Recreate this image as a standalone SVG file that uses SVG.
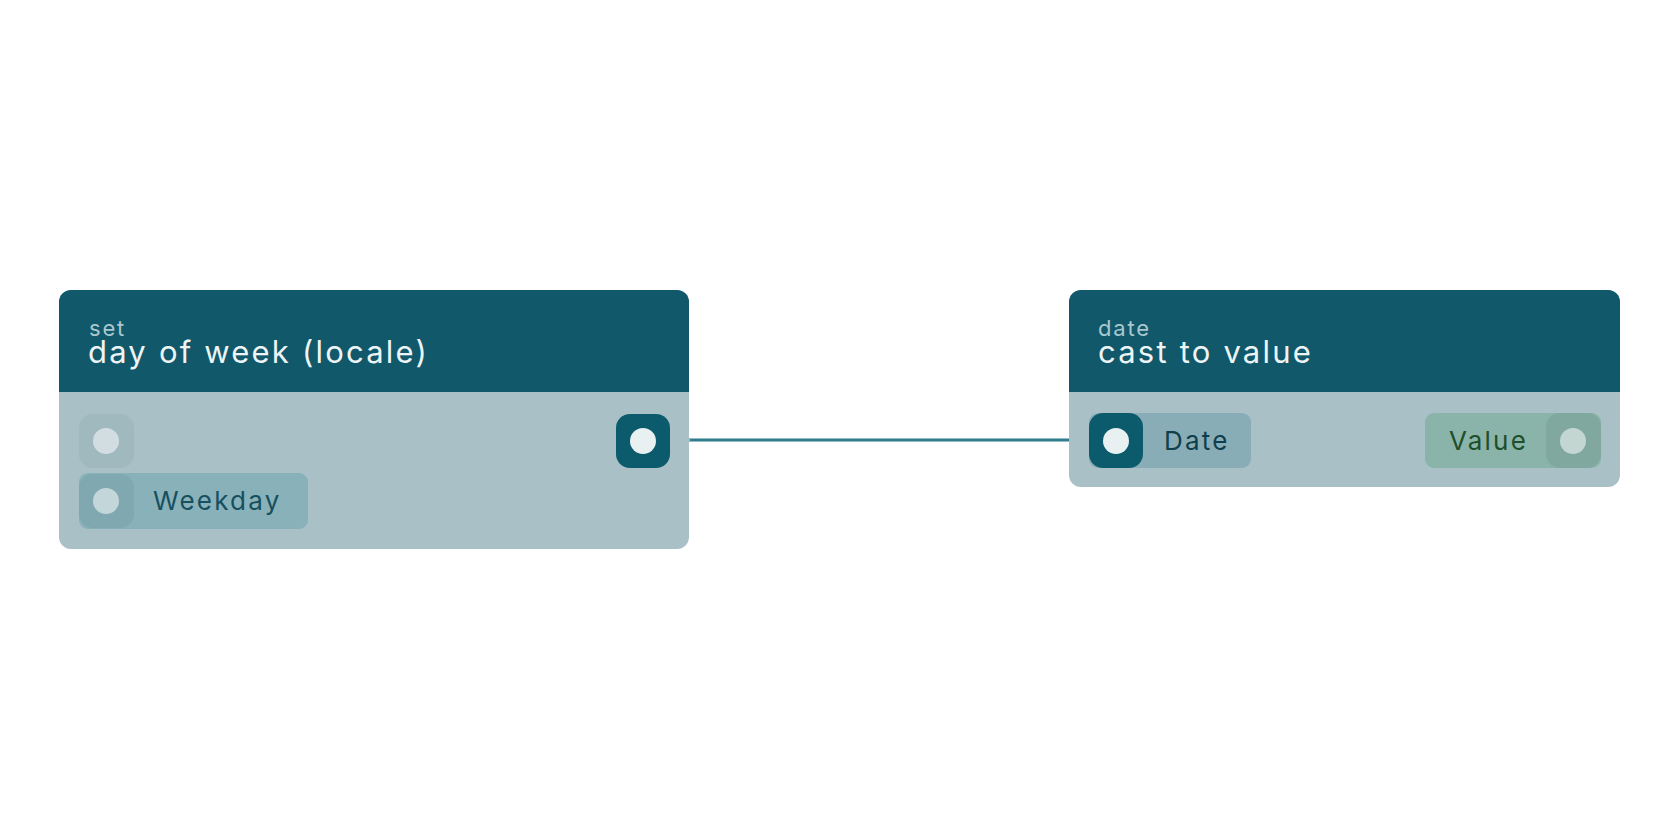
<svg xmlns="http://www.w3.org/2000/svg" width="1680" height="840" viewBox="0 0 1680 840">
<style>
text{font-family:Inter,"Noto Sans",sans-serif}
.hdr{fill:#10586a}
.body{fill:#a9c1c6}
.sub{fill:#a9c8cf;font-size:22px;letter-spacing:1.8px}
.ttl{fill:#eef4f5;font-size:31px;letter-spacing:2.2px}
.lbl{font-size:26px;letter-spacing:2.2px}
</style>
<rect width="1680" height="840" fill="#fff"/>
<g id="connectors">
<line x1="670" y1="440" x2="690" y2="440" stroke="#8fb4bc" stroke-width="4"/>
<line x1="690" y1="440" x2="1092" y2="440" stroke="#2f7d8c" stroke-width="3"/>
</g>
<g id="node-set">
<rect x="59" y="290" width="630" height="259" rx="12" class="body"/>
<path d="M59 392V302a12 12 0 0 1 12-12h606a12 12 0 0 1 12 12v90z" class="hdr"/>
<text x="89" y="336" class="sub">set</text>
<text x="88" y="363" class="ttl">day of week (locale)</text>
<rect x="79" y="414" width="55" height="54" rx="14" fill="#9fb9be"/>
<circle cx="106" cy="441" r="13" fill="#d2dde1"/>
<rect x="79" y="473" width="229" height="56" rx="9" fill="#89b1b9"/>
<rect x="79" y="474" width="55" height="54" rx="14" fill="#7fa8b0"/>
<circle cx="106" cy="501" r="13" fill="#c3d6da"/>
<text x="153" y="510" class="lbl" fill="#16505f">Weekday</text>
<rect x="616" y="414" width="54" height="54" rx="14" fill="#0c5b6c"/>
<circle cx="643" cy="441" r="13" fill="#e8f0f1"/>
</g>
<g id="node-cast">
<rect x="1069" y="290" width="551" height="197" rx="12" class="body"/>
<path d="M1069 392V302a12 12 0 0 1 12-12h527a12 12 0 0 1 12 12v90z" class="hdr"/>
<text x="1098" y="336" class="sub">date</text>
<text x="1098" y="363" class="ttl">cast to value</text>
<rect x="1089" y="413" width="162" height="55" rx="9" fill="#89adb6"/>
<rect x="1089" y="413" width="54" height="55" rx="14" fill="#0c5b6c"/>
<circle cx="1116" cy="441" r="13" fill="#e8f0f1"/>
<text x="1164" y="450" class="lbl" fill="#0f3f4c">Date</text>
<rect x="1425" y="413" width="176" height="55" rx="9" fill="#8ab4aa"/>
<rect x="1546" y="413" width="55" height="55" rx="14" fill="#80a89e"/>
<circle cx="1573" cy="441" r="13" fill="#c3d6d1"/>
<text x="1449" y="450" class="lbl" fill="#1d4f2a">Value</text>
</g>
</svg>
